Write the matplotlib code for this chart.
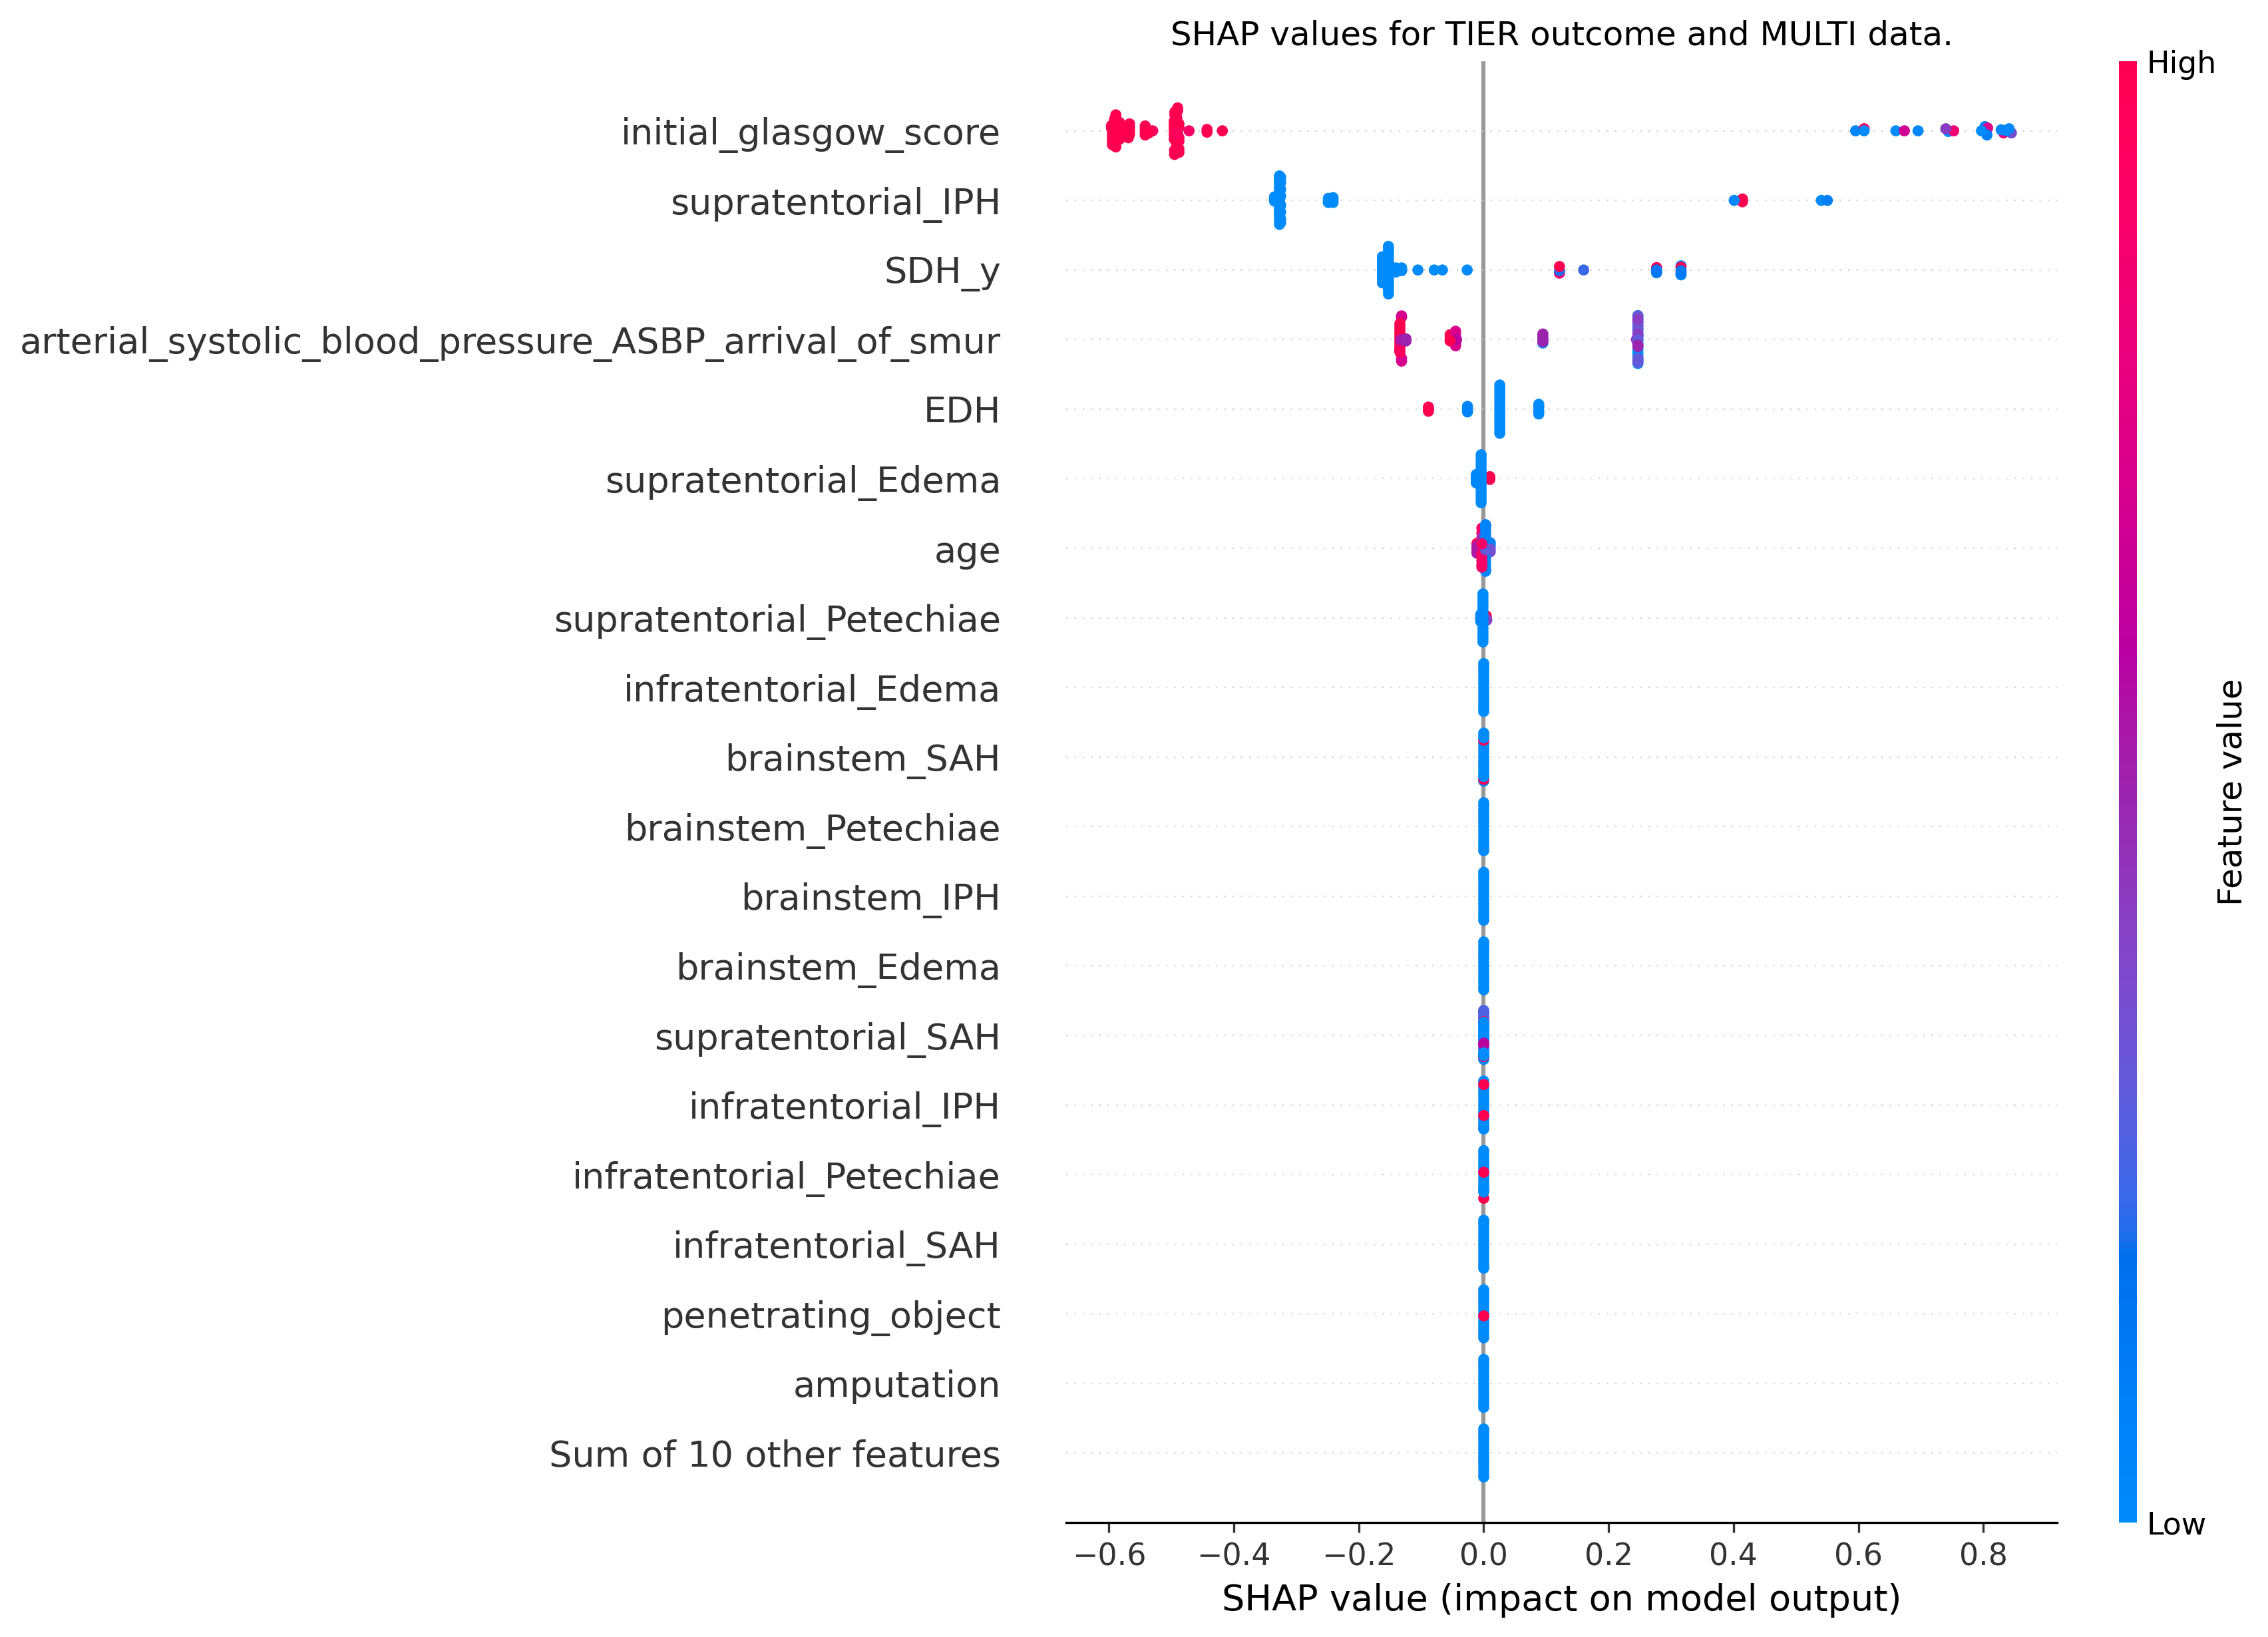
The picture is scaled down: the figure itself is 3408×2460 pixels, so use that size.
import numpy as np
import matplotlib
matplotlib.use("Agg")
import matplotlib.pyplot as plt
from matplotlib.colors import LinearSegmentedColormap
from matplotlib.cm import ScalarMappable

W, H, DPI = 3408, 2460, 300

features = ["initial_glasgow_score", "supratentorial_IPH", "SDH_y",
            "arterial_systolic_blood_pressure_ASBP_arrival_of_smur", "EDH",
            "supratentorial_Edema", "age", "supratentorial_Petechiae",
            "infratentorial_Edema", "brainstem_SAH", "brainstem_Petechiae",
            "brainstem_IPH", "brainstem_Edema", "supratentorial_SAH",
            "infratentorial_IPH", "infratentorial_Petechiae", "infratentorial_SAH",
            "penetrating_object", "amputation", "Sum of 10 other features"]

# every cluster: (SHAP value, feature value, vertical offsets within the row)
FULL = [.345, .30, .25, .20, .15, .10, .05, 0, -.05, -.10, -.15, -.20, -.25, -.30, -.345]

r_glasgow = [
    (-.589, 1, [.229, .19, .15, .11, .07, .03, -.01, -.05, -.09, -.13, -.17, -.21, -.232]),
    (-.596, 1, [.075, .04]), (-.591, 1, [.17, .12]), (-.5945, 1, [0, -.05, -.10, -.15, -.2]),
    (-.583, 1, [.12, .06, 0, -.06, -.12]), (-.576, 1, [.03, -.03]),
    (-.567, 1, [.10, .05, 0, -.05]), (-.569, 1, [-.10]),
    (-.530, .93, [0]), (-.542, 1, [.07, .03, -.02, -.06]), (-.536, 1, [.0, -.03]),
    (-.4717, .9, [0]), (-.443, 1, [.02, -.02]), (-.4184, 1, [0]),
    (-.490, 1, [.33, .29]), (-.4945, 1, [.27, .23]),
    (-.4915, 1, [.19, .15, .11, .07, .03, -.01, -.05, -.09, -.13, -.17, -.21, -.25]),
    (-.4955, 1, [.14, .09, .04, 0, -.06, -.12]), (-.488, 1, [.1, .05, -.1, -.15, -.26, -.31]),
    (-.495, 1, [-.28, -.34]), (-.490, .93, [-.045]),
    (.5954, .03, [0]), (.609, .92, [.03]), (.609, .0, [0]), (.660, 0, [0]),
    (.6736, .68, [0]), (.6954, .03, [0]), (.744, 0, [-.01]), (.7525, .85, [0]),
    (.7399, .42, [.03]), (.8025, .06, [.06]), (.8068, .72, [.04]), (.8057, .08, [-.06]),
    (.7970, 0, [0]), (.8324, .85, [.0, -.03]), (.8449, .35, [-.03]),
    (.8285, .02, [.015]), (.837, .05, [0]), (.8411, .02, [.03]),
]
r_supra_iph = [
    (-.327, 0, [.352, .31, .27, .23, .19, .15, .11, .07, .03, -.01, -.05, -.09, -.13, -.17, -.21, -.25, -.29, -.345]),
    (-.325, 0, [.33, .26, .16, .06, -.07, -.17, -.27, -.32]),
    (-.335, 0, [.05, .02, -.01]),
    (-.2488, 0, [.03, 0, -.03]), (-.2412, 0, [.04, .01, -.03]),
    (.4143, 1, [.02, -.02]), (.401, .03, [0]), (.5405, .0, [0]), (.5502, .07, [0]),
]
r_sdh = [
    (-.1622, 0, [.19, .15, .11, .07, .03, -.01, -.05, -.09, -.13, -.185]),
    (-.1525, 0, [.34, .30, .26, .22, .18, .14, .10, .06, .02, -.02, -.06, -.10, -.14, -.18, -.22, -.26, -.30, -.345]),
    (-.1407, 0, [.03, -.03]), (-.1314, 0, [.03, -.01]),
    (-.1054, 0, [0]), (-.0792, 0, [0]), (-.0661, 0, [0]), (-.0265, 0, [0]),
    (.1213, .85, [-.045]), (.1213, .2, [-.01]), (.1213, 1, [.05]), (.16, .22, [0]),
    (.2768, 1, [.035]), (.2768, 0, [-.04]), (.2768, .14, [.0, -.03]),
    (.3159, 0, [.06, -.07]), (.3159, 1, [.04]), (.3159, .12, [-.01, -.05]),
]
r_asbp = [
    (-.1315, .7, [.34, .32, -.31, -.27]),
    (-.1342, 1, [.23, .19, .15, .11, .07, .03, -.01, -.05, -.09, -.13, -.18]),
    (-.1325, .55, [0, -.02]), (-.1345, .93, [-.16]),
    (-.1244, .5, [.01, -.02]),
    (-.0537, 1, [.07, .03, -.02]), (-.045, .72, [.12, .08, -.06, -.09]), (-.0435, .6, [0]),
    (-.0537, 1, [-.015]),
    (.0947, 0, [-.05]), (.0947, .5, [.08, .04, 0, -.03]),
    (.2469, 0, FULL), (.2445, .45, [0]),
    (.2469, .32, [.34, .25, .2, .15]), (.2469, .42, [.29, .08, .05]),
    (.2469, .3, [.0, -.27, -.325, -.30]), (.2469, .5, [-.1, -.08]),
]
r_edh = [
    (-.0885, 1, [.03, 0, -.03]), (-.026, .05, [.04, 0, -.04]),
    (.0257, 0, [.347, .30, .25, .20, .15, .10, .05, 0, -.05, -.10, -.15, -.20, -.25, -.30, -.347]),
    (.0882, 0, [.07, .03, -.03, -.07]),
]
r_supra_edema = [
    (.0098, 1, [.03, -.01]),
    (-.0041, 0, FULL), (-.0119, .02, [.06, .02, -.02, -.06]),
]
r_age = [
    (-.003, .9, [.29, .22, .15]), (.003, .03, [.33, .2]),
    (-.0108, 1, [.07]), (-.0108, .55, [.03, 0, -.04, -.07]),
    (.0105, .08, [.08, .04]), (.0105, .35, [-.01, -.05]),
    (.003, .03, [-.33, -.3, -.2, -.26, -.15]),
    (-.003, .9, [-.08, -.12, -.18, -.24, -.27]),
    (-.002, .45, [.16, .14]), (.003, .06, [.34, .30, .25, .17, .13]),
    (.003, .3, [-.02]), (-.003, .9, [.065]),
]
r_supra_pete = [
    (.004, 1, [.03, 0, -.03]), (.005, .4, [-.03]),
    (-.0012, 0, FULL), (-.0048, .02, [.05, 0, -.05]),
]
r_infra_edema = [(0, 0, FULL)]
r_brain_sah = [
    (0, 0, [-.345]), (0, 1, [-.32]),
    (0, 0, [-.28, -.25, -.2, -.15, -.1, -.05, 0, .05, .1, .15, .2]),
    (0, 1, [.243]), (0, 0, [.345, .3, .277]),
]
r_brain_pete = [(0, 0, FULL)]
r_brain_iph = [(0, 0, FULL)]
r_brain_edema = [(0, 0, FULL)]
r_supra_sah = [
    (0, 0, FULL), (0, 1, [.35, -.305]), (0, .25, [.36, .32, .27]), (0, .95, [.2]),
    (0, 0, [.19, .15, .1, .05, 0, -.05, -.09]), (0, .6, [-.143, -.11]),
    (0, 0, [-.25, -.28, -.29]),
]
r_infra_iph = [(0, 1, [-.33]), (0, 0, FULL), (0, 1, [.294, -.15])]
r_infra_pete = [
    (0, 0, [.345, .30, .25, .20, .15, .10, .05, 0, -.05, -.10, -.15, -.20]),
    (0, 1, [-.34]), (0, 0, [-.25, -.22]), (0, 1, [.034]),
]
r_infra_sah = [(0, 0, FULL)]
r_penetrating = [(0, 0, FULL), (0, 1, [-.03])]
r_amputation = [(0, 0, FULL)]
r_other = [(0, 0, FULL)]

rows = [r_glasgow, r_supra_iph, r_sdh, r_asbp, r_edh, r_supra_edema, r_age, r_supra_pete,
        r_infra_edema, r_brain_sah, r_brain_pete, r_brain_iph, r_brain_edema, r_supra_sah,
        r_infra_iph, r_infra_pete, r_infra_sah, r_penetrating, r_amputation, r_other]


def lch_to_rgb(l, c, h):
    a, b = c * np.cos(h), c * np.sin(h)
    fy = (l + 16) / 116
    fx, fz = fy + a / 500, fy - b / 200
    def finv(t):
        return t ** 3 if t > 6 / 29 else 3 * (6 / 29) ** 2 * (t - 4 / 29)
    X, Y, Z = .95047 * finv(fx), finv(fy), 1.08883 * finv(fz)
    lin = np.array([3.2406 * X - 1.5372 * Y - .4986 * Z,
                    -.9689 * X + 1.8758 * Y + .0415 * Z,
                    .0557 * X - .2040 * Y + 1.0570 * Z])
    lin = np.clip(lin, 0, 1)
    return np.where(lin <= .0031308, 12.92 * lin, 1.055 * lin ** (1 / 2.4) - .055)


n = 100
ls = list(np.linspace(54, 40, n // 2)) + list(np.linspace(40, 54, n // 2))
cs = np.linspace(70, 90, n)
hs = np.linspace(4.6588, .35470565 + 2 * np.pi, n)
red_blue = LinearSegmentedColormap.from_list("red_blue", [lch_to_rgb(*t) for t in zip(ls, cs, hs)], N=256)

fig = plt.figure(figsize=(W / DPI, H / DPI), dpi=DPI)
ax = fig.add_axes([1602 / W, 1 - 2288 / H, 1489.5 / W, 2196 / H])
ax.axvline(0, color="#999999", zorder=-1)
n_rows = len(features)
for i, (name, clusters) in enumerate(zip(features, rows)):
    pos = n_rows - 1 - i
    ax.axhline(pos, color="#cccccc", lw=.5, dashes=(1, 5), zorder=-1)
    xs, ys, vals = [], [], []
    for x, v, offs in clusters:
        for d in offs:
            xs.append(x); ys.append(pos + d); vals.append(v)
    ax.scatter(xs, ys, c=vals, cmap=red_blue, vmin=0, vmax=1, s=16, linewidth=0, zorder=3)
ax.set_xlim(-.6686, .9185)
ax.set_ylim(-1, n_rows)
ax.set_yticks(range(n_rows))
ax.set_yticklabels(features[::-1], fontsize=13)
ax.set_xticks([-.6, -.4, -.2, 0, .2, .4, .6, .8])
ax.tick_params(axis="y", length=20, width=.5)
ax.yaxis.set_ticks_position("none")
ax.xaxis.set_ticks_position("bottom")
ax.tick_params(color="#333333", labelcolor="#333333")
ax.tick_params(axis="x", labelsize=11)
for s in ("top", "right", "left"):
    ax.spines[s].set_visible(False)
ax.set_xlabel("SHAP value (impact on model output)", fontsize=13)
ax.set_title("SHAP values for TIER outcome and MULTI data.", fontsize=12)

cax = fig.add_axes([3184 / W, 1 - 2288 / H, 27 / W, 2196 / H])
sm = ScalarMappable(cmap=red_blue)
sm.set_clim(0, 1)
cb = fig.colorbar(sm, cax=cax, ticks=[0, 1])
cb.set_ticklabels(["Low", "High"])
cb.ax.tick_params(labelsize=11, length=0)
cb.set_label("Feature value", size=12, labelpad=0)
cb.outline.set_visible(False)

fig.savefig("out.png", dpi=DPI)
